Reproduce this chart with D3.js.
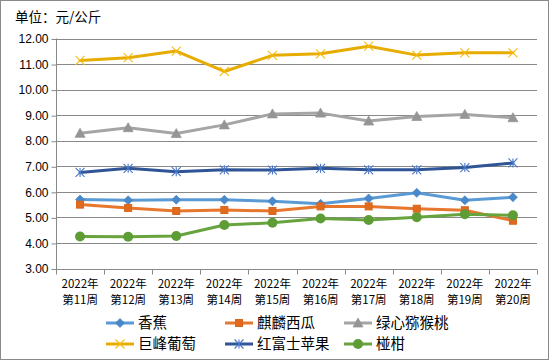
<!DOCTYPE html>
<html><head><meta charset="utf-8">
<script src="https://cdn.jsdelivr.net/npm/d3@7"></script>
<style>
html,body{margin:0;padding:0;background:#fff;}
svg{display:block;font-family:"Noto Sans CJK SC","Noto Sans",sans-serif;}
</style></head>
<body>
<svg id="chart" width="550" height="362"></svg>
<script>
const categories = ["2022年\n第11周","2022年\n第12周","2022年\n第13周","2022年\n第14周","2022年\n第15周","2022年\n第16周","2022年\n第17周","2022年\n第18周","2022年\n第19周","2022年\n第20周"];
const seriesNames = ["香蕉","麒麟西瓜","绿心猕猴桃","巨峰葡萄","红富士苹果","椪柑"];
const banana     = [5.70,5.67,5.69,5.69,5.63,5.53,5.74,5.96,5.67,5.79];
const watermelon = [5.50,5.37,5.25,5.29,5.25,5.43,5.43,5.34,5.28,4.87];
const kiwi       = [8.29,8.51,8.28,8.62,9.05,9.08,8.77,8.95,9.03,8.90];
const grape      = [11.14,11.25,11.51,10.71,11.34,11.40,11.70,11.35,11.44,11.44];
const apple      = [6.76,6.92,6.79,6.86,6.85,6.92,6.86,6.86,6.95,7.13];
const mandarin   = [4.25,4.24,4.27,4.70,4.79,4.96,4.90,5.01,5.12,5.08];
const yTicks = [3,4,5,6,7,8,9,10,11,12];
const unitLabel = "单位：元/公斤";

const seriesValues = [banana, watermelon, kiwi, grape, apple, mandarin];
const styles = [
  {line:"#5B9BD5", mark:"#4A88C9", shape:"diamond"},
  {line:"#E8772E", mark:"#E06A1E", shape:"square"},
  {line:"#A5A5A5", mark:"#959595", shape:"triangle"},
  {line:"#E7AC00", mark:"#F5BB10", shape:"x"},
  {line:"#2F5597", mark:"#4A78C8", shape:"star"},
  {line:"#67A43E", mark:"#5E9C36", shape:"circle"}
];

const svg = d3.select("#chart");
svg.append("rect").attr("x",0.5).attr("y",0.5).attr("width",548).attr("height",359)
  .attr("fill","#fff").attr("stroke","#8a8a8a").attr("stroke-width",1);

const x = d3.scaleBand().domain(categories).range([56,537]);
const y = d3.scaleLinear().domain([3,12]).range([268.5,38.5]);

// gridlines
svg.append("g").selectAll("line").data(yTicks).join("line")
  .attr("x1",56).attr("x2",537)
  .attr("y1",d=>Math.round(y(d))+0.5).attr("y2",d=>Math.round(y(d))+0.5)
  .attr("stroke","#898989").attr("stroke-width",1);

// y axis
const yAxis = d3.axisLeft(y).tickValues(yTicks).tickFormat(d3.format(".2f")).tickSize(5).tickPadding(3);
const gy = svg.append("g").attr("transform","translate(56.5,0)").call(yAxis);
gy.select(".domain").attr("stroke","#898989").attr("d","M0,38.5V"+(Math.round(y(3))+0.5));
gy.selectAll(".tick line").attr("stroke","#898989").attr("transform","translate(0,0.5)");
gy.selectAll(".tick text").attr("fill","#000").style("font-size","12px").attr("dy","0.35em");

// x axis
const gx = svg.append("g").attr("transform","translate(0,"+(Math.round(y(3))+0.5)+")");
const edges = categories.map(c=>x(c)).concat([x.range()[1]]);
gx.selectAll("line").data(edges).join("line")
  .attr("x1",d=>Math.round(d)+0.5).attr("x2",d=>Math.round(d)+0.5)
  .attr("y1",0).attr("y2",5).attr("stroke","#898989");
const xl = gx.selectAll("text").data(categories).join("text")
  .attr("x",d=>x(d)+x.bandwidth()/2).attr("text-anchor","middle")
  .style("font-size","11.5px").attr("fill","#000");
xl.each(function(d){
  const parts = d.split("\n");
  d3.select(this).selectAll("tspan").data(parts).join("tspan")
    .attr("x",x(d)+x.bandwidth()/2).attr("y",(p,i)=>18+i*16).text(p=>p);
});

// marker drawing
function drawMarker(g, shape, color, size){
  const s = size;
  if(shape==="diamond"){
    g.append("path").attr("d",`M0,${-s/2}L${s/2},0L0,${s/2}L${-s/2},0Z`).attr("fill",color).attr("stroke",color).attr("stroke-width",0.75);
  } else if(shape==="square"){
    g.append("rect").attr("x",-s/2+0.5).attr("y",-s/2+0.5).attr("width",s-1).attr("height",s-1).attr("fill",color).attr("stroke","#D9661C").attr("stroke-width",1);
  } else if(shape==="triangle"){
    g.append("path").attr("d",`M0,${-s/2-0.5}L${s/2+0.5},${s/2-0.5}L${-s/2-0.5},${s/2-0.5}Z`).attr("fill",color).attr("stroke",color).attr("stroke-width",0.75);
  } else if(shape==="x"){
    g.append("path").attr("d",`M${-s/2},${-s/2}L${s/2},${s/2}M${s/2},${-s/2}L${-s/2},${s/2}`).attr("stroke",color).attr("stroke-width",1.1).attr("fill","none");
  } else if(shape==="star"){
    g.append("path").attr("d",`M${-s/2},${-s/2}L${s/2},${s/2}M${s/2},${-s/2}L${-s/2},${s/2}M0,${-s/2}L0,${s/2}`).attr("stroke",color).attr("stroke-width",1.1).attr("fill","none");
  } else if(shape==="circle"){
    g.append("circle").attr("r",s/2).attr("fill",color);
  }
}
const markerSize = {diamond:9,square:8,triangle:9,x:9,star:9,circle:10};

const line = d3.line().x((d,i)=>x(categories[i])+x.bandwidth()/2).y(d=>y(d));
seriesValues.forEach((vals,si)=>{
  const st = styles[si];
  const g = svg.append("g");
  g.append("path").datum(vals).attr("d",line).attr("fill","none")
    .attr("stroke",st.line).attr("stroke-width",3).attr("stroke-linejoin","round").attr("stroke-linecap","round");
  vals.forEach((v,i)=>{
    const mg = g.append("g").attr("transform",`translate(${x(categories[i])+x.bandwidth()/2},${y(v)})`);
    drawMarker(mg, st.shape, st.mark, markerSize[st.shape]);
  });
});

// title
svg.append("text").attr("x",15).attr("y",22).text(unitLabel).style("font-size","13.5px").attr("fill","#000");

// legend
const legX = [106,225,344];
const legY = [323,344];
seriesNames.forEach((name,i)=>{
  const col = i%3, row = Math.floor(i/3);
  const g = svg.append("g").attr("transform",`translate(${legX[col]},${legY[row]})`);
  g.append("line").attr("x1",0).attr("x2",28).attr("y1",0).attr("y2",0).attr("stroke",styles[i].line).attr("stroke-width",3);
  const mg = g.append("g").attr("transform","translate(14,0)");
  drawMarker(mg, styles[i].shape, styles[i].mark, markerSize[styles[i].shape]);
  g.append("text").attr("x",32).attr("y",0).attr("dy","0.35em").text(name).style("font-size","14.5px").attr("fill","#000");
});
</script>
</body></html>
